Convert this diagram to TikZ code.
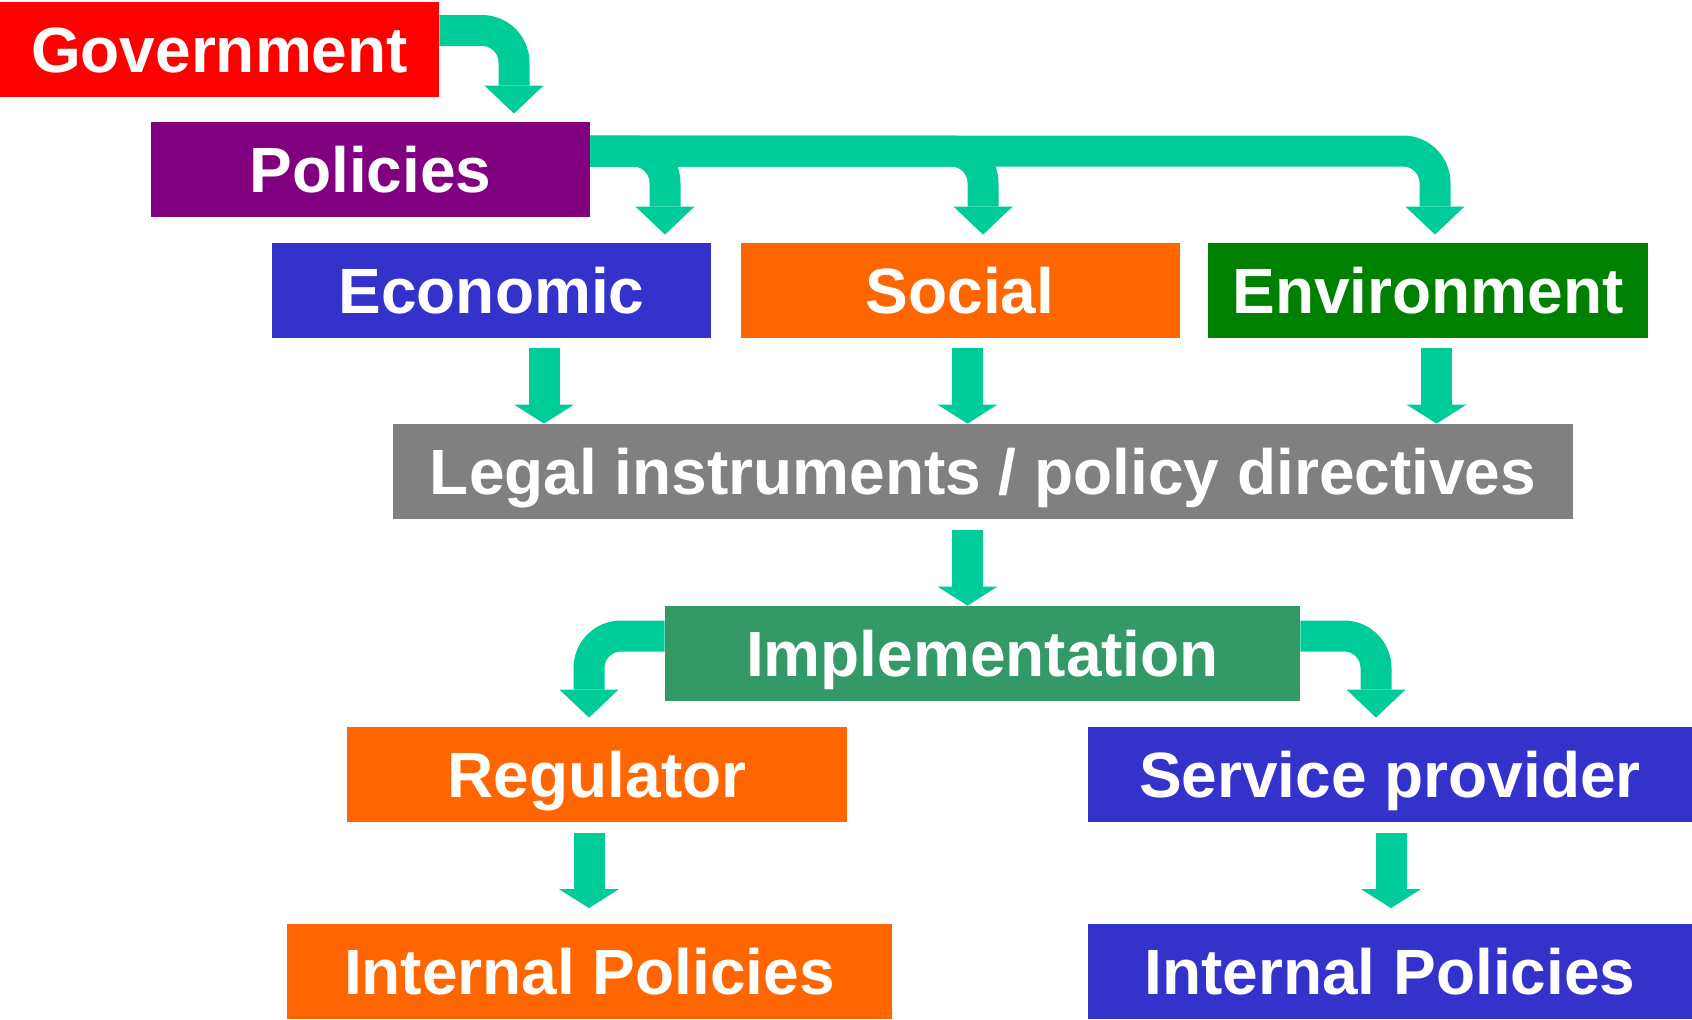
\documentclass[tikz,border=0pt]{standalone}
\usepackage{fontspec}
\setmainfont{Liberation Sans}
\usetikzlibrary{arrows.meta}

\definecolor{govred}{HTML}{FF0000}
\definecolor{polpurple}{HTML}{800080}
\definecolor{ecoblue}{HTML}{3333CC}
\definecolor{socorange}{HTML}{FF6600}
\definecolor{envgreen}{HTML}{008000}
\definecolor{legalgray}{HTML}{808080}
\definecolor{implgreen}{HTML}{339966}
\definecolor{arrowgreen}{HTML}{00CC99}

\begin{document}
\begin{tikzpicture}[x=0.5pt,y=-0.5pt,
	box/.style={fill=#1, text=white, font=\fontsize{32}{38}\selectfont\bfseries,
		inner sep=0pt, minimum height=47.5pt, text height=23pt, text depth=0pt},
	bentarrow/.style={draw=arrowgreen, line width=15.5pt, rounded corners=16pt,
		-{Triangle[length=14pt,width=29.5pt,line width=0pt]}},
	downarrow/.style={draw=arrowgreen, line width=15.5pt,
		-{Triangle[length=9.5pt,width=30pt,line width=0pt]}}]
	\useasboundingbox (0,0) rectangle (1692,1019);

	% boxes
	\node[box=govred, minimum width=219.5pt] (gov) at (219.5,49) {Government};
	\node[box=polpurple, minimum width=219.5pt] (pol) at (370.5,169.5) {Policies};

	\node[box=ecoblue, minimum width=219.5pt] (eco) at (491.5,290.5) {Economic};
	\node[box=socorange, minimum width=219.5pt] (soc) at (960,290.5) {Social};
	\node[box=envgreen, minimum width=220pt] (env) at (1428,290.5) {Environment};

	\node[box=legalgray, minimum width=590pt] (legal) at (983,471.5) {Legal instruments / policy directives};
	\node[box=implgreen, minimum width=317.5pt] (impl) at (982.5,653.5) {Implementation};

	\node[box=socorange, minimum width=250pt] (reg) at (597,774.5) {Regulator};
	\node[box=ecoblue, minimum width=302pt] (serv) at (1390,774.5) {Service provider};

	\node[box=socorange, minimum width=302.5pt] (intreg) at (589.5,971) {Internal Policies};
	\node[box=ecoblue, minimum width=302pt] (intserv) at (1390,971) {Internal Policies};

	% bent arrows
	\draw[bentarrow] ([yshift=9.25pt]gov.east) -| ([xshift=71.75pt,yshift=4pt]pol.north);
	\draw[bentarrow] ([yshift=9.25pt]pol.east) -| ([xshift=86.75pt,yshift=4pt]eco.north);
	\draw[bentarrow] ([yshift=9.25pt]pol.east) -| ([xshift=11.5pt,yshift=4pt]soc.north);
	\draw[bentarrow] ([yshift=9.25pt]pol.east) -| ([xshift=3.5pt,yshift=4pt]env.north);
	\draw[bentarrow] ([yshift=8.75pt]impl.west) -| ([xshift=-4pt,yshift=4.5pt]reg.north);
	\draw[bentarrow] ([yshift=8.75pt]impl.east) -| ([xshift=-7pt,yshift=4.5pt]serv.north);

	% straight arrows
	\draw[downarrow] ([xshift=26.25pt,yshift=-5pt]eco.south) -- ([xshift=26.25pt]eco.south |- legal.north);
	\draw[downarrow] ([xshift=3.75pt,yshift=-5pt]soc.south) -- ([xshift=3.75pt]soc.south |- legal.north);
	\draw[downarrow] ([xshift=4.25pt,yshift=-5pt]env.south) -- ([xshift=4.25pt]env.south |- legal.north);
	\draw[downarrow] ([xshift=-7.75pt,yshift=-5.5pt]legal.south) -- ([xshift=-7.75pt]legal.south |- impl.north);
	\draw[downarrow] ([xshift=-4pt,yshift=-5.5pt]reg.south) -- ([xshift=-4pt,yshift=7.5pt]reg.south |- intreg.north);
	\draw[downarrow] ([xshift=0.5pt,yshift=-5.5pt]serv.south) -- ([xshift=0.5pt,yshift=7.5pt]serv.south |- intserv.north);
\end{tikzpicture}
\end{document}
